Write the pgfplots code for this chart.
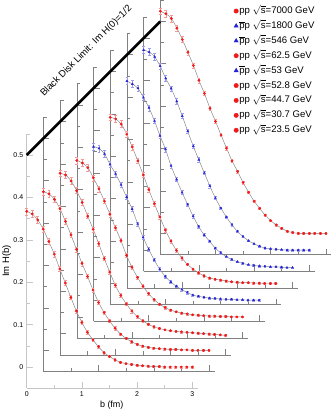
\documentclass[border=0pt]{standalone}
\usepackage{fontspec}
\setmainfont{Liberation Sans}
\usepackage{pgfplots}
\usepackage{pgfplotstable}
\pgfplotsset{compat=1.18}
\definecolor{ptred}{HTML}{F01818}
\definecolor{ptblue}{HTML}{2222D8}

% Im H(b) profiles, curve k is shifted by k steps in the picture
\pgfplotstableread{
b   c0     c1     c2     c3     c4     c5     c6     c7     c8     e
0.0 0.367  0.374  0.378  0.369  0.362  0.392  0.438  0.472  0.524  0.008
0.1 0.361  0.369  0.374  0.363  0.358  0.388  0.431  0.467  0.518  0.008
0.2 0.347  0.356  0.360  0.352  0.345  0.376  0.421  0.456  0.507  0.008
0.3 0.325  0.334  0.337  0.328  0.320  0.352  0.399  0.434  0.484  0.007
0.4 0.296  0.304  0.309  0.302  0.298  0.322  0.375  0.405  0.457  0.007
0.5 0.266  0.272  0.277  0.273  0.272  0.289  0.344  0.381  0.427  0.006
0.6 0.231  0.238  0.246  0.242  0.243  0.256  0.309  0.351  0.396  0.006
0.7 0.198  0.205  0.212  0.210  0.215  0.221  0.277  0.316  0.361  0.006
0.8 0.164  0.174  0.177  0.180  0.180  0.188  0.238  0.280  0.330  0.005
0.9 0.132  0.142  0.145  0.145  0.148  0.157  0.206  0.245  0.295  0.005
1.0 0.105  0.113  0.114  0.117  0.120  0.126  0.175  0.213  0.264  0.005
1.1 0.082  0.089  0.090  0.093  0.095  0.100  0.147  0.182  0.232  0.004
1.2 0.064  0.069  0.070  0.072  0.073  0.078  0.119  0.151  0.201  0.004
1.3 0.048  0.052  0.053  0.055  0.056  0.060  0.095  0.123  0.171  0.004
1.4 0.034  0.038  0.040  0.041  0.043  0.045  0.075  0.099  0.146  0.003
1.5 0.025  0.028  0.030  0.030  0.033  0.034  0.060  0.078  0.120  0.003
1.6 0.017  0.020  0.022  0.022  0.025  0.025  0.044  0.060  0.097  0.003
1.7 0.011  0.014  0.016  0.016  0.018  0.018  0.033  0.044  0.076  0.003
1.8 0.008  0.010  0.012  0.012  0.012  0.013  0.024  0.032  0.059  0.002
1.9 0.006  0.007  0.009  0.009  0.009  0.010  0.017  0.022  0.043  0.002
2.0 0.004  0.005  0.007  0.007  0.007  0.008  0.012  0.015  0.030  0.002
2.1 0.003  0.004  0.005  0.005  0.005  0.006  0.008  0.009  0.020  0.002
2.2 0.002  0.003  0.004  0.004  0.004  0.004  0.005  0.005  0.012  0.002
2.3 0.001  0.002  0.003  0.003  0.003  0.003  0.003  0.003  0.005  0.002
2.4 0.001  0.002  0.002  0.002  0.002  0.002  0.002  0.002  0.002  0.002
2.5 0.000  0.001  0.001  0.002  0.002  0.002  0.001  0.001  0.000  0.002
2.6 0.000  0.001  0.000  0.001  0.001  0.001  0.000  0.000  0.000  0.002
2.7 0.000  0.000  -0.001 0.001  0.001  0.001  0.000  0.000  0.000  0.002
2.8 0.000  0.000  -0.002 0.000  0.000  0.000  -0.001 0.000  0.000  0.002
2.9 0.000  0.000  -0.003 0.000  0.000  0.000  -0.002 0.000  0.000  0.002
3.0 0.000  0.000  -0.004 0.000  0.000  0.000  -0.002 0.000  0.000  0.002
}\hdata

\pgfplotsset{
  frame/.style={
    x=55.2bp, y=424bp,
    xmin=0, xmax=3.1, ymin=-0.05, ymax=0.55,
    axis lines=left, axis line style={-, gray, line width=0.6bp},
    xtick={0,1,2,3}, minor xtick={0.5,1.5,2.5},
    ytick={0,0.1,0.2,0.3,0.4,0.5},
    minor ytick={0.05,0.15,0.25,0.35,0.45,0.55},
    tick align=inside, major tick length=6bp, minor tick length=3.5bp,
    tick style={gray, line width=0.6bp},
    anchor=south west, clip=false,
  },
  fitline/.style={gray, line width=0.45bp, smooth, forget plot},
  pts/.style={only marks, mark size=1.2bp, color=#1,
    error bars/y dir=both, error bars/y explicit,
    error bars/error bar style={color=#1!45, line width=0.5bp},
    error bars/error mark options={rotate=90, color=#1!45, mark size=1.4bp, line width=0.5bp}},
}

\begin{document}
\begin{tikzpicture}
\foreach \k/\col/\mk in {8/ptred/*,7/ptblue/triangle*,6/ptblue/triangle*,5/ptred/*,4/ptblue/triangle*,3/ptred/*,2/ptred/*,1/ptred/*}{
\begin{axis}[frame, at={({26.7bp+16.7bp*\k},{23.8bp+16.7bp*\k})},
  xticklabels={}, yticklabels={}]
\addplot[fitline] table[x=b, y=c\k] {\hdata};
\addplot[mark=\mk, pts=\col] table[x=b, y=c\k, y error=e] {\hdata};
\end{axis}
}

\begin{axis}[frame, at={(26.7bp,23.8bp)},
  axis line style={-, gray!45, line width=0.6bp},
  tick style={gray!45, line width=0.6bp},
  ticklabel style={font=\fontsize{7}{8}\selectfont},
  /pgf/number format/assume math mode=true,
  yticklabel style={/pgf/number format/fixed, /pgf/number format/precision=1},
  xlabel={b (fm)}, ylabel={Im H(b)},
  xlabel style={at={(axis description cs:0.497,-0.066)}, anchor=center, font=\fontsize{9}{10}\selectfont},
  ylabel style={at={(axis description cs:-0.117,0.5)}, anchor=center, font=\fontsize{9.5}{10}\selectfont},
  legend image code/.code={\draw[#1] plot coordinates {(0bp,0bp)};},
  legend cell align=left,
  legend style={at={(axis description cs:1.21,1.503)}, anchor=north west,
    draw=none, fill=none, font=\fontsize{9.6}{10}\selectfont,
    row sep=4.9bp, column sep=0.5bp, inner sep=0bp,
    nodes={inner sep=0.5bp, text height=7bp, text depth=2bp}},
]
\addplot[fitline] table[x=b, y=c0] {\hdata};
\addplot[mark=*, forget plot, pts=ptred] table[x=b, y=c0, y error=e] {\hdata};
\addplot[black, line width=2.6bp, forget plot] coordinates {(0,0.5) (2.42,0.815)};
\node[rotate=45, font=\fontsize{9.6}{10}\selectfont] at (axis cs:1.08,0.745) {Black Disk Limit: Im H(0)=1/2};

\addlegendimage{only marks, mark=*, ptred, mark size=2.2bp}
\addlegendentry{pp $\sqrt{\mbox{s}}$=7000 GeV}
\addlegendimage{only marks, mark=triangle*, ptblue, mark size=2.4bp}
\addlegendentry{$\overline{\mbox{p}}$p $\sqrt{\mbox{s}}$=1800 GeV}
\addlegendimage{only marks, mark=triangle*, ptblue, mark size=2.4bp}
\addlegendentry{$\overline{\mbox{p}}$p $\sqrt{\mbox{s}}$=546 GeV}
\addlegendimage{only marks, mark=*, ptred, mark size=2.2bp}
\addlegendentry{pp $\sqrt{\mbox{s}}$=62.5 GeV}
\addlegendimage{only marks, mark=triangle*, ptblue, mark size=2.4bp}
\addlegendentry{$\overline{\mbox{p}}$p $\sqrt{\mbox{s}}$=53 GeV}
\addlegendimage{only marks, mark=*, ptred, mark size=2.2bp}
\addlegendentry{pp $\sqrt{\mbox{s}}$=52.8 GeV}
\addlegendimage{only marks, mark=*, ptred, mark size=2.2bp}
\addlegendentry{pp $\sqrt{\mbox{s}}$=44.7 GeV}
\addlegendimage{only marks, mark=*, ptred, mark size=2.2bp}
\addlegendentry{pp $\sqrt{\mbox{s}}$=30.7 GeV}
\addlegendimage{only marks, mark=*, ptred, mark size=2.2bp}
\addlegendentry{pp $\sqrt{\mbox{s}}$=23.5 GeV}
\end{axis}

\pgfresetboundingbox
\path[use as bounding box] (0,0) rectangle (332bp,412bp);
\end{tikzpicture}
\end{document}
